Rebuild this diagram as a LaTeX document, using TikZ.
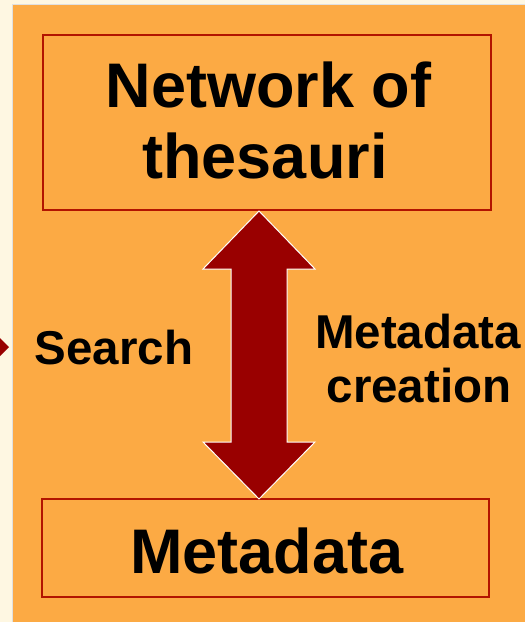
\documentclass[tikz,border=0pt]{standalone}
\usepackage{fontspec}
\setmainfont{Liberation Sans}
\definecolor{cream}{RGB}{254,247,226}
\definecolor{panel}{RGB}{252,170,68}
\definecolor{boxred}{RGB}{178,20,0}
\definecolor{arrred}{RGB}{153,0,0}
\tikzset{
  box/.style={draw=boxred, line width=1.3pt, rectangle, inner sep=0pt},
  bigtxt/.style={anchor=base, inner sep=0pt, font=\fontsize{63}{71}\selectfont\bfseries},
  midtxt/.style={anchor=base, inner sep=0pt, font=\fontsize{47.5}{54}\selectfont\bfseries},
  fatarrow/.style={fill=arrred, draw=white, line width=1pt, line join=miter}
}
\begin{document}
\begin{tikzpicture}[x=1pt,y=-1pt]
\useasboundingbox (0,0) rectangle (525,622);
\fill[cream] (0,0) rectangle (525,622);
\fill[panel] (12,4) rectangle (526,623);
\draw[black!12, line width=0.8pt] (12,623) -- (12,4) -- (526,4);
% partially visible arrow at left edge
\fill[arrred] (-3,335) -- (9,347) -- (-3,359) -- cycle;
% boxes
\node[box, minimum width=448pt, minimum height=175pt] (top) at (267,122.5) {};
\node[box, minimum width=447pt, minimum height=98pt] (bot) at (265.5,548) {};
% texts
\node[bigtxt] (net1) at (268.5,107) {Network of};
\node[bigtxt] (net2) at (265,178) {thesauri};
\node[bigtxt] (meta) at (267,573) {Metadata};
\node[midtxt] (search) at (114,364) {Search};
\node[midtxt] (mc1) at (418,348) {Metadata};
\node[midtxt] (mc2) at (419,402) {creation};
% double arrow between boxes
\coordinate (at) at (259,211);
\coordinate (ab) at (259,499);
\draw[fatarrow] (at) -- ++(56,58) -- ++(-28,0) -- (287,442) -- ++(28,0)
  -- (ab) -- ++(-56,-57) -- ++(28,0) -- (231,269) -- ++(-28,0) -- cycle;
\end{tikzpicture}
\end{document}
